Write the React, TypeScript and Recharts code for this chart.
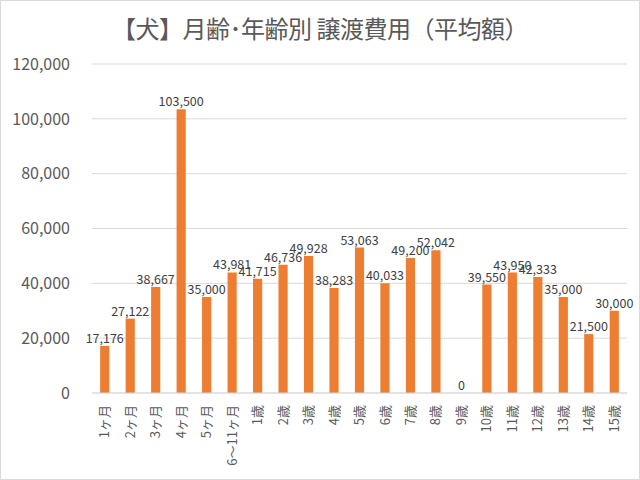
import { BarChart, Bar, XAxis, YAxis, CartesianGrid, LabelList, ReferenceDot } from "recharts";

const categories = [
  "1ヶ月", "2ヶ月", "3ヶ月", "4ヶ月", "5ヶ月", "6～11ヶ月",
  "1歳", "2歳", "3歳", "4歳", "5歳", "6歳", "7歳", "8歳", "9歳",
  "10歳", "11歳", "12歳", "13歳", "14歳", "15歳",
];
const averageCost = [
  17176, 27122, 38667, 103500, 35000, 43981,
  41715, 46736, 49928, 38283, 53063, 40033, 49200, 52042, 0,
  39550, 43950, 42333, 35000, 21500, 30000,
];
const yTicks = [0, 20000, 40000, 60000, 80000, 100000, 120000];

const data = categories.map((name, i) => ({ name, value: averageCost[i] }));
// bars with a value of 0 get no label from LabelList, so mark them separately
const zeroPoints = data.filter((d) => d.value === 0);

const FONT = "'Noto Sans CJK JP', 'Noto Sans', sans-serif";
const fmt = (v: number) => v.toLocaleString("en-US");
const labelStyle = { fontSize: 12.5, fill: "#404040", fontFamily: FONT };

const RotatedTick = ({ x, y, payload }: any) => (
  <g transform={`translate(${x},${y})`}>
    <text
      transform="rotate(-90)"
      textAnchor="end"
      dy="0.35em"
      fontSize={13}
      fill="#595959"
      fontFamily={FONT}
    >
      {payload.value}
    </text>
  </g>
);

export default function App() {
  return (
    <div
      style={{
        position: "absolute",
        left: 0,
        top: 0,
        width: 638,
        height: 478,
        border: "1px solid #d9d9d9",
        background: "#fff",
        fontFamily: FONT,
      }}
    >
      <div
        style={{
          position: "absolute",
          top: 9,
          left: 0,
          width: "100%",
          textAlign: "center",
          fontSize: 24,
          color: "#595959",
          letterSpacing: -0.5,
        }}
      >
        【犬】月齢･年齢別 譲渡費用（平均額）
      </div>
      <BarChart
        width={638}
        height={478}
        data={data}
        margin={{ top: 63, right: 12, bottom: 8, left: 11 }}
        barCategoryGap="68%"
      >
        <CartesianGrid vertical={false} stroke="#d9d9d9" />
        <XAxis
          dataKey="name"
          interval={0}
          height={78}
          tickLine={false}
          axisLine={{ stroke: "#d9d9d9" }}
          tick={<RotatedTick />}
          tickMargin={6}
        />
        <YAxis
          width={80}
          domain={[0, 120000]}
          ticks={yTicks}
          tickFormatter={fmt}
          axisLine={false}
          tickLine={false}
          tickMargin={16}
          tick={{ fontSize: 16, fill: "#595959", fontFamily: FONT }}
        />
        <Bar dataKey="value" fill="#ED7D31" isAnimationActive={false}>
          <LabelList
            dataKey="value"
            position="top"
            offset={3}
            formatter={(v: any) => fmt(Number(v))}
            style={labelStyle}
          />
        </Bar>
        {zeroPoints.map((d) => (
          <ReferenceDot
            key={d.name}
            x={d.name}
            y={d.value}
            r={0}
            stroke="none"
            fill="none"
            label={{ value: fmt(d.value), position: "top", offset: 3, style: labelStyle }}
          />
        ))}
      </BarChart>
    </div>
  );
}
